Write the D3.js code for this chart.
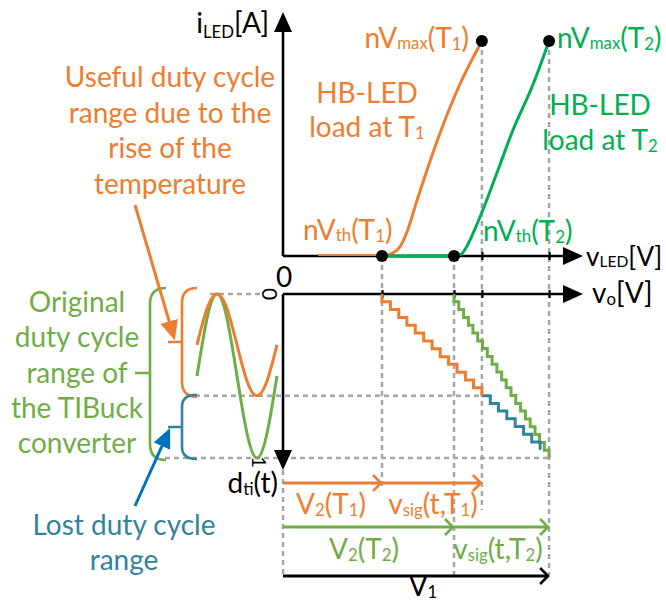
<!DOCTYPE html>
<html>
<head>
<meta charset="utf-8">
<script src="https://cdn.jsdelivr.net/npm/d3@7"></script>
<style>
  body { margin: 0; background: #fff; }
  text { font-family: Lato, "Open Sans", sans-serif; }
</style>
</head>
<body>
<script>
// ---- data ----
var keyV = [3.3, 5.7, 6.63, 8.87];   // nVth(T1), nVth(T2), nVmax(T1), nVmax(T2)

var ledT1V = [3.3, 3.6, 3.9, 4.12, 4.47, 4.85, 5.23, 5.9, 6.63];
var ledT1I = [0, 0.01, 0.043, 0.107, 0.26, 0.42, 0.57, 0.8, 1];
var ledT2V = [5.7, 5.95, 6.12, 6.34, 6.79, 7.22, 7.62, 8.34, 8.87];
var ledT2I = [0, 0.01, 0.043, 0.107, 0.26, 0.42, 0.57, 0.8, 1];

// staircases in the v_o / duty plane
var stairOrV = [3.30, 3.58, 3.86, 4.13, 4.41, 4.69, 4.97, 5.24, 5.52, 5.80, 6.08, 6.35, 6.63, 6.63];
var stairOrD = [0, 0.048, 0.095, 0.143, 0.191, 0.238, 0.286, 0.334, 0.382, 0.429, 0.477, 0.525, 0.572, 0.62];
var stairTeV = [6.63, 6.91, 7.18, 7.46, 7.74, 8.02, 8.29, 8.57];
var stairTeD = [0.62, 0.667, 0.714, 0.761, 0.808, 0.855, 0.902, 0.95];
var stairGrV = [5.70, 5.86, 6.02, 6.18, 6.33, 6.49, 6.65, 6.81, 6.97, 7.13, 7.29, 7.44, 7.60, 7.76, 7.92, 8.08, 8.24, 8.40, 8.55, 8.71, 8.87, 8.87];
var stairGrD = [0, 0.048, 0.095, 0.143, 0.190, 0.238, 0.286, 0.333, 0.381, 0.429, 0.476, 0.524, 0.571, 0.619, 0.667, 0.714, 0.762, 0.810, 0.857, 0.905, 0.952, 1.0];

// duty sine waves (t in quarter periods)
var sineT = [0, 0.5, 1, 1.5, 2, 2.5, 3, 3.5, 4];
var sineOrD = [0.31, 0.09, 0, 0.09, 0.31, 0.53, 0.62, 0.53, 0.31];
var sineOlD = [0.5, 0.15, 0, 0.15, 0.5, 0.85, 1, 0.85, 0.5];

var usefulLines = ["Useful duty cycle", "range due to the", "rise of the", "temperature"];
var originalLines = ["Original", "duty cycle", "range of", "the TIBuck", "converter"];
var lostLines = ["Lost duty cycle", "range"];

var ORANGE = "#ED7D31", GREEN = "#00B050", OLIVE = "#70AD47", TEAL = "#31849B", BLUE = "#0070C0", GRAY = "#A6A6A6";
var FS = 28, SUB = 0.6;

var svg = d3.select("body").append("svg").attr("width", 666).attr("height", 603);

var x = d3.scaleLinear().domain([0, 10]).range([283, 583]);
var yI = d3.scaleLinear().domain([0, 1]).range([256, 41]);
var yD = d3.scaleLinear().domain([0, 1]).range([294, 458]);
var xT = d3.scaleLinear().domain([0, 4]).range([197, 277]);

// markers
var defs = svg.append("defs");
function triMarker(id, color, len, wid) {
  defs.append("marker").attr("id", id).attr("markerUnits", "userSpaceOnUse")
    .attr("markerWidth", len).attr("markerHeight", wid).attr("refX", len / 2).attr("refY", wid / 2)
    .attr("orient", "auto")
    .append("path").attr("d", "M0,0L" + len + "," + (wid / 2) + "L0," + wid + "Z").attr("fill", color);
}
function chevMarker(id, color) {
  defs.append("marker").attr("id", id).attr("markerUnits", "userSpaceOnUse")
    .attr("markerWidth", 14).attr("markerHeight", 22).attr("refX", 10).attr("refY", 11)
    .attr("orient", "auto")
    .append("path").attr("d", "M2,3L10,11L2,19").attr("fill", "none").attr("stroke", color).attr("stroke-width", 2.6);
}
triMarker("axArrow", "#000", 20, 18);
triMarker("orArrow", ORANGE, 20, 18);
triMarker("blArrow", BLUE, 20, 18);
chevMarker("chOr", ORANGE);
chevMarker("chOl", OLIVE);
chevMarker("chBk", "#000");

// ---- gray dashed guides ----
var dash = svg.append("g").attr("stroke", GRAY).attr("stroke-width", 2.5).attr("stroke-dasharray", "5,4").attr("fill", "none");
var vGuides = [[keyV[0], yI(0), 490], [keyV[1], yI(0), 575], [keyV[2], yI(1), 510], [keyV[3], yI(1), 575], [0, 470, 575]];
vGuides.forEach(function(g) {
  dash.append("line").attr("x1", x(g[0])).attr("x2", x(g[0])).attr("y1", g[1]).attr("y2", g[2]);
});
dash.append("line").attr("x1", 210).attr("x2", 260).attr("y1", yD(0)).attr("y2", yD(0));
dash.append("line").attr("x1", 195).attr("x2", x(keyV[2])).attr("y1", yD(0.62)).attr("y2", yD(0.62));
dash.append("line").attr("x1", 165).attr("x2", x(keyV[3])).attr("y1", yD(1)).attr("y2", yD(1));

// ---- axes ----
var ax = svg.append("g").attr("stroke", "#000").attr("stroke-width", 2.6);
ax.append("line").attr("x1", x(0)).attr("y1", yI(0)).attr("x2", x(0)).attr("y2", 22).attr("marker-end", "url(#axArrow)");
ax.append("line").attr("x1", x(0)).attr("y1", yI(0)).attr("x2", 573).attr("y2", yI(0)).attr("marker-end", "url(#axArrow)");
ax.append("line").attr("x1", x(0)).attr("y1", yD(0)).attr("x2", 573).attr("y2", yD(0)).attr("marker-end", "url(#axArrow)");
ax.append("line").attr("x1", x(0)).attr("y1", yD(0)).attr("x2", x(0)).attr("y2", 460).attr("marker-end", "url(#axArrow)");

[yI(0), yD(0)].forEach(function(yy) {
  var a = svg.append("g").attr("transform", "translate(0," + (yy - 4) + ")")
    .call(d3.axisBottom(x).tickValues(keyV).tickSize(8).tickFormat(""));
  a.select(".domain").remove();
  a.selectAll(".tick line").attr("stroke", "#000").attr("stroke-width", 2.2);
});

// ---- LED curves ----
var lineI = d3.line().x(function(d) { return x(d[0]); }).y(function(d) { return yI(d[1]); }).curve(d3.curveMonotoneX);
svg.append("line").attr("x1", x(1.17)).attr("x2", x(keyV[0])).attr("y1", yI(0) - 1).attr("y2", yI(0) - 1)
  .attr("stroke", ORANGE).attr("stroke-width", 2);
svg.append("path").attr("d", lineI(d3.zip(ledT1V, ledT1I))).attr("fill", "none").attr("stroke", ORANGE).attr("stroke-width", 3);
svg.append("line").attr("x1", x(keyV[0])).attr("x2", x(keyV[1])).attr("y1", yI(0)).attr("y2", yI(0))
  .attr("stroke", GREEN).attr("stroke-width", 3.5);
svg.append("path").attr("d", lineI(d3.zip(ledT2V, ledT2I))).attr("fill", "none").attr("stroke", GREEN).attr("stroke-width", 3);

var dots = [[keyV[0], 0], [keyV[1], 0], [keyV[2], 1], [keyV[3], 1]];
svg.selectAll("circle.pt").data(dots).enter().append("circle").attr("class", "pt")
  .attr("cx", function(d) { return x(d[0]); }).attr("cy", function(d) { return yI(d[1]); }).attr("r", 6).attr("fill", "#000");

// ---- staircases ----
var stepB = d3.line().x(function(d) { return x(d[0]); }).y(function(d) { return yD(d[1]); }).curve(d3.curveStepBefore);
var stepA = d3.line().x(function(d) { return x(d[0]); }).y(function(d) { return yD(d[1]); }).curve(d3.curveStepAfter);
svg.append("path").attr("d", stepB(d3.zip(stairGrV, stairGrD))).attr("fill", "none").attr("stroke", OLIVE).attr("stroke-width", 3);
svg.append("path").attr("d", stepA(d3.zip(stairTeV, stairTeD))).attr("fill", "none").attr("stroke", TEAL).attr("stroke-width", 3);
svg.append("path").attr("d", stepB(d3.zip(stairOrV, stairOrD))).attr("fill", "none").attr("stroke", ORANGE).attr("stroke-width", 3);

// ---- sine waves ----
var sineLine = d3.line().x(function(d) { return xT(d[0]); }).y(function(d) { return yD(d[1]); }).curve(d3.curveNatural);
svg.append("path").attr("d", sineLine(d3.zip(sineT, sineOlD))).attr("fill", "none").attr("stroke", OLIVE).attr("stroke-width", 3);
svg.append("path").attr("d", sineLine(d3.zip(sineT, sineOrD))).attr("fill", "none").attr("stroke", ORANGE).attr("stroke-width", 3);

// ---- braces ----
function brace(color, xv, xe, y0, y1, yTick, xTick, r) {
  var p = "M" + xe + "," + y0 + "Q" + xv + "," + y0 + " " + xv + "," + (y0 + r) +
    "L" + xv + "," + (y1 - r) + "Q" + xv + "," + y1 + " " + xe + "," + y1 +
    "M" + xv + "," + yTick + "L" + xTick + "," + yTick;
  svg.append("path").attr("d", p).attr("fill", "none").attr("stroke", color).attr("stroke-width", 2.6);
}
brace(OLIVE, 150, 166, yD(0) - 6, yD(1) + 2, 373, 135, 16);
brace(ORANGE, 182, 197, yD(0) - 6, yD(0.62) + 1, 342, 168, 15);
brace(TEAL, 182, 197, yD(0.62) - 1, yD(1) + 1, 427, 168, 12);

// annotation arrows
svg.append("line").attr("x1", 135).attr("y1", 205).attr("x2", 172).attr("y2", 331)
  .attr("stroke", ORANGE).attr("stroke-width", 3).attr("marker-end", "url(#orArrow)");
svg.append("line").attr("x1", 135).attr("y1", 506).attr("x2", 166).attr("y2", 437)
  .attr("stroke", BLUE).attr("stroke-width", 3).attr("marker-end", "url(#blArrow)");

// ---- bottom voltage arrows ----
function hArrow(v0, v1, yy, color, mk, w) {
  svg.append("line").attr("x1", x(v0)).attr("x2", x(v1) - 1).attr("y1", yy).attr("y2", yy)
    .attr("stroke", color).attr("stroke-width", w).attr("marker-end", "url(#" + mk + ")");
}
hArrow(0, keyV[0], 483, ORANGE, "chOr", 3);
hArrow(keyV[0], keyV[2], 483, ORANGE, "chOr", 3);
hArrow(0, keyV[1], 527, OLIVE, "chOl", 3);
hArrow(keyV[1], keyV[3], 527, OLIVE, "chOl", 3);
hArrow(0, keyV[3], 576, "#000", "chBk", 3.2);

// ---- text ----
function rich(parts, px, py, anchor, color, size) {
  var t = svg.append("text").attr("x", px).attr("y", py).attr("text-anchor", anchor)
    .attr("fill", color).style("font-size", size + "px");
  var off = 0;
  parts.forEach(function(p) {
    var s = p[1] || 0;
    var ts = t.append("tspan").text(p[0]).attr("dy", s - off);
    if (p[1] !== undefined) ts.style("font-size", (size * SUB) + "px");
    off = s;
  });
  return t;
}
rich([["i"], ["LED", 5], ["[A]"]], 269, 33, "end", "#000", FS);
rich([["0"]], 284, 287, "middle", "#000", FS);
rich([["v"], ["LED", 1], ["[V]"]], 586, 266, "start", "#000", 26);
rich([["v"], ["o", 2], ["[V]"]], 592, 303, "start", "#000", FS);

rich([["nV"], ["max", 1], ["(T"], ["1", 2], [")"]], 469, 48, "end", ORANGE, FS);
rich([["nV"], ["max", 1], ["(T"], ["2", 2], [")"]], 557, 48, "start", GREEN, FS);
rich([["HB-LED"]], 367, 103, "middle", ORANGE, FS);
rich([["load at T"], ["1", 2]], 367, 137, "middle", ORANGE, FS);
rich([["HB-LED"]], 600, 115, "middle", GREEN, FS);
rich([["load at T"], ["2", 2]], 600, 150, "middle", GREEN, FS);
rich([["nV"], ["th", 1], ["(T"], ["1", 2], [")"]], 303, 240, "start", ORANGE, FS);
rich([["nV"], ["th", 1], ["(T"], ["2", 2], [")"]], 483, 241, "start", GREEN, FS);

usefulLines.forEach(function(s, i) { rich([[s]], 170, 87 + i * 35.5, "middle", ORANGE, FS); });
originalLines.forEach(function(s, i) { rich([[s]], 77, 312 + i * 35.3, "middle", OLIVE, FS); });
lostLines.forEach(function(s, i) { rich([[s]], 124, 535 + i * 35, "middle", TEAL, FS); });

rich([["d"], ["ti", 2], ["(t)"]], 278, 493, "end", "#000", FS);
rich([["V"], ["2", 2], ["(T"], ["1", 2], [")"]], 331, 514, "middle", ORANGE, FS);
rich([["v"], ["sig", 2], ["(t,T"], ["1", 2], [")"]], 433, 514, "middle", ORANGE, FS);
rich([["V"], ["2", 2], ["(T"], ["2", 2], [")"]], 364, 559, "middle", OLIVE, FS);
rich([["v"], ["sig", 2], ["(t,T"], ["2", 2], [")"]], 498, 559, "middle", OLIVE, FS);
rich([["V"], ["1", 2]], 423, 596, "middle", "#000", FS);

svg.append("text").attr("transform", "translate(269,294) rotate(90)").attr("text-anchor", "middle")
  .attr("dy", "0.35em").style("font-size", "21px").text("0");
svg.append("text").attr("transform", "translate(259,462) rotate(90)").attr("text-anchor", "middle")
  .attr("dy", "0.35em").style("font-size", "20px").text("1");
</script>
</body>
</html>
